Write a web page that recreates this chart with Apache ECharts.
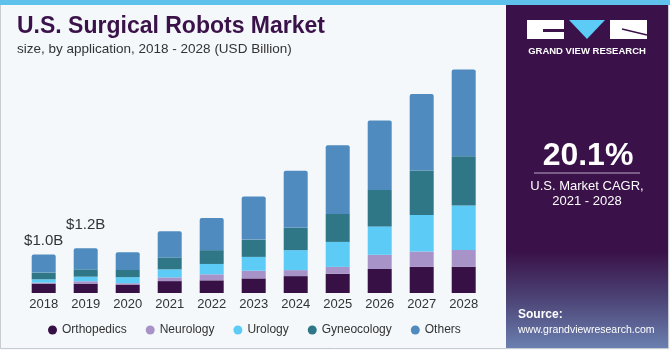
<!DOCTYPE html>
<html>
<head>
<meta charset="utf-8">
<script src="https://cdn.jsdelivr.net/npm/echarts@6/dist/echarts.min.js"></script>
<style>
html, body { margin: 0; padding: 0; background: #f4f8fb; }
#main { width: 670px; height: 350px; }
</style>
</head>
<body>
<div id="main"></div>
<script>
// 数据（USD Billion）
var years = ['2018', '2019', '2020', '2021', '2022', '2023', '2024', '2025', '2026', '2027', '2028'];
var orthopedics = [0.245, 0.245, 0.22, 0.31, 0.33, 0.38, 0.44, 0.50, 0.625, 0.68, 0.685];
var neurology   = [0.026, 0.06, 0.035, 0.096, 0.156, 0.20, 0.156, 0.18, 0.37, 0.40, 0.435];
var urology     = [0.086, 0.12, 0.156, 0.21, 0.27, 0.36, 0.52, 0.65, 0.74, 0.95, 1.16];
var gyneocology = [0.174, 0.19, 0.19, 0.31, 0.36, 0.45, 0.58, 0.73, 0.95, 1.16, 1.28];
var others      = [0.469, 0.55, 0.46, 0.68, 0.84, 1.12, 1.49, 1.79, 1.81, 1.99, 2.26];
var topLabels   = ['$1.0B', '$1.2B'];

var colors = ['#371146', '#a793c7', '#5ccbf5', '#2f7787', '#4f8bbf'];
var font = 'Liberation Sans';

var myChart = echarts.init(document.getElementById('main'));

function barSeries(name, data, color) {
    return {
        name: name,
        type: 'bar',
        stack: 'total',
        barWidth: 24,
        data: data,
        itemStyle: { color: color },
        emphasis: { disabled: true }
    };
}

// 最上面那段带标签（只标前两年）
var othersData = others.map(function (v, i) {
    if (i < topLabels.length) {
        return {
            value: v,
            label: {
                show: true,
                position: 'top',
                distance: i === 0 ? 6 : 16,
                formatter: topLabels[i],
                color: '#333',
                fontSize: 15,
                fontFamily: font
            }
        };
    }
    return v;
});

var series = [
    barSeries('Orthopedics', orthopedics, colors[0]),
    barSeries('Neurology', neurology, colors[1]),
    barSeries('Urology', urology, colors[2]),
    barSeries('Gyneocology', gyneocology, colors[3]),
    barSeries('Others', othersData, colors[4])
];
series[4].itemStyle.borderRadius = [2, 2, 0, 0];

option = {
    backgroundColor: '#f4f8fb',
    animation: false,
    textStyle: { fontFamily: font },
    grid: { left: 22.7, right: 185.3, top: 62.6, bottom: 57 },
    legend: {
        left: 43,
        top: 319,
        icon: 'circle',
        itemWidth: 9,
        itemHeight: 9,
        itemGap: 19,
        textStyle: { fontSize: 12, color: '#333', fontFamily: font },
        data: ['Orthopedics', 'Neurology', 'Urology', 'Gyneocology', 'Others']
    },
    xAxis: {
        type: 'category',
        data: years,
        axisLine: { show: false },
        axisTick: { show: false },
        axisLabel: { fontSize: 13, color: '#333', margin: 5, fontFamily: font }
    },
    yAxis: {
        type: 'value',
        min: 0,
        max: 6,
        show: false,
        splitLine: { show: false }
    },
    series: series,
    graphic: [
        // 外框和顶部蓝条
        { type: 'rect', shape: { x: 0.5, y: 0.5, width: 668, height: 348 }, style: { fill: 'none', stroke: '#c8cbcf', lineWidth: 1 }, z: -1 },
        { type: 'rect', shape: { x: 0, y: 0, width: 670, height: 5 }, style: { fill: '#5fc2ec' } },
        // 标题
        { type: 'text', left: 17, top: 15, style: { text: 'U.S. Surgical Robots Market', font: 'bold 23px "Liberation Sans"', fill: '#3a1249' } },
        { type: 'text', left: 17, top: 42, style: { text: 'size, by application, 2018 - 2028 (USD Billion)', font: '13.5px "Liberation Sans"', fill: '#333' } },
        // 右侧面板
        {
            type: 'rect', shape: { x: 506, y: 5, width: 162, height: 343 },
            style: {
                fill: new echarts.graphic.LinearGradient(0, 0, 0, 1, [
                    { offset: 0, color: '#3a1249' },
                    { offset: 0.72, color: '#3a1249' },
                    { offset: 0.85, color: '#4b4173' },
                    { offset: 1, color: '#6a80b0' }
                ])
            }
        },
        // logo
        { type: 'rect', shape: { x: 527, y: 20, width: 37, height: 19 }, style: { fill: '#fff' } },
        { type: 'rect', shape: { x: 543, y: 29, width: 21, height: 3 }, style: { fill: '#3a1249' } },
        { type: 'polygon', shape: { points: [[569, 20], [605, 20], [587, 39]] }, style: { fill: '#5ccbf5' } },
        { type: 'rect', shape: { x: 610, y: 20, width: 37, height: 19 }, style: { fill: '#fff' } },
        { type: 'line', shape: { x1: 622, y1: 29, x2: 647, y2: 35 }, style: { stroke: '#3a1249', lineWidth: 1.5 } },
        { type: 'text', x: 587, y: 51, style: { text: 'GRAND VIEW RESEARCH', font: 'bold 9.5px "Liberation Sans"', fill: '#fff', align: 'center', verticalAlign: 'middle' } },
        // CAGR
        { type: 'text', x: 588, y: 156, style: { text: '20.1%', font: 'bold 32px "Liberation Sans"', fill: '#fff', align: 'center', verticalAlign: 'middle' } },
        { type: 'line', shape: { x1: 534, y1: 173, x2: 640, y2: 173 }, style: { stroke: '#b9a9c9', lineWidth: 1 } },
        { type: 'text', x: 587, y: 186, style: { text: 'U.S. Market CAGR,', font: '13px "Liberation Sans"', fill: '#fff', align: 'center', verticalAlign: 'middle' } },
        { type: 'text', x: 587, y: 201, style: { text: '2021 - 2028', font: '13px "Liberation Sans"', fill: '#fff', align: 'center', verticalAlign: 'middle' } },
        // 来源
        { type: 'text', x: 518, y: 315, style: { text: 'Source:', font: 'bold 12px "Liberation Sans"', fill: '#fff', verticalAlign: 'middle' } },
        { type: 'text', x: 518, y: 330, style: { text: 'www.grandviewresearch.com', font: '10.5px "Liberation Sans"', fill: '#fff', verticalAlign: 'middle' } }
    ]
};

myChart.setOption(option);
</script>
</body>
</html>
